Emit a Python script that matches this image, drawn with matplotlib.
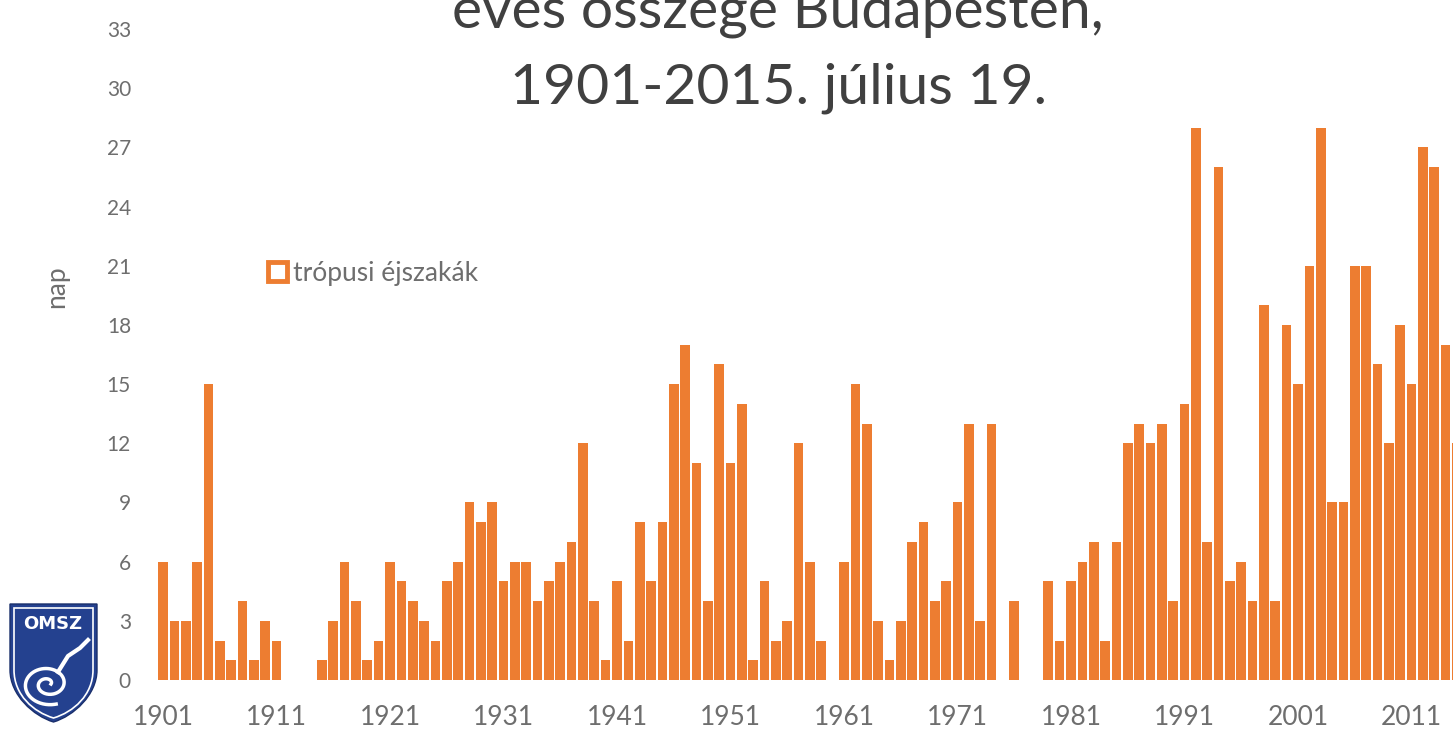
import numpy as np
import matplotlib.pyplot as plt
from matplotlib.patches import Patch, PathPatch
from matplotlib.path import Path

plt.rcParams['font.family'] = ['Lato', 'DejaVu Sans']

# tropical nights per year, Budapest (2015: until July 19)
years = list(range(1901, 2016))
nights = [6, 3, 3, 6, 15, 2, 1, 4, 1, 3,        # 1901-1910
          2, 0, 0, 0, 1, 3, 6, 4, 1, 2,         # 1911-1920
          6, 5, 4, 3, 2, 5, 6, 9, 8, 9,         # 1921-1930
          5, 6, 6, 4, 5, 6, 7, 12, 4, 1,        # 1931-1940
          5, 2, 8, 5, 8, 15, 17, 11, 4, 16,     # 1941-1950
          11, 14, 1, 5, 2, 3, 12, 6, 2, 0,      # 1951-1960
          6, 15, 13, 3, 1, 3, 7, 8, 4, 5,       # 1961-1970
          9, 13, 3, 13, 0, 4, 0, 0, 5, 2,       # 1971-1980
          5, 6, 7, 2, 7, 12, 13, 12, 13, 4,     # 1981-1990
          14, 28, 7, 26, 5, 6, 4, 19, 4, 18,    # 1991-2000
          15, 21, 28, 9, 9, 21, 21, 16, 12, 18, # 2001-2010
          15, 27, 26, 17, 12]                   # 2011-2015
tick_years = list(range(1901, 2012, 10))
y_ticks = list(range(0, 34, 3))
series_label = "trópusi éjszakák"
title_lines = ["éves összege Budapesten,", "1901-2015. július 19."]

ORANGE = "#ED7D31"
GRAY = "#6e6e6e"
W, H = 1453, 731


def fx(px):
    return px / W


def fy(py):
    return 1 - py / H


fig = plt.figure(figsize=(W / 100, H / 100), dpi=100)
# the chart is a crop: axes run past the right edge of the picture
ax = fig.add_axes([fx(157.3), fy(680), 1305.3 / W, 651 / H])
bars = ax.bar(years, nights, width=0.85, color=ORANGE, edgecolor="none")

ax.set_xlim(1900.5, 2015.5)
ax.set_ylim(0, 33)
ax.set_xticks(tick_years)
ax.set_xticklabels([str(y) for y in tick_years], fontsize=19, color=GRAY)
ax.set_yticks(y_ticks)
ax.set_yticklabels([str(v) for v in y_ticks], fontsize=15, color=GRAY)
ax.tick_params(axis="both", length=0)
ax.tick_params(axis="y", pad=19)
ax.tick_params(axis="x", pad=18)
for s in ax.spines.values():
    s.set_visible(False)

fig.text(fx(57), fy(287), "nap", rotation=90, fontsize=19, color=GRAY,
         ha="center", va="center")

handle = Patch(facecolor="white", edgecolor=ORANGE, linewidth=3.5)
fig.legend([handle], [series_label], loc="center left",
           bbox_to_anchor=(fx(255), fy(273)), frameon=False,
           fontsize=19, labelcolor=GRAY, handlelength=0.7, handleheight=0.7,
           handletextpad=0.25, borderpad=0)

fig.text(fx(778), fy(28), title_lines[0], fontsize=41, color="#404040",
         ha="center", va="baseline")
fig.text(fx(778), fy(103), title_lines[1], fontsize=41, color="#404040",
         ha="center", va="baseline")

# OMSZ logo (shield, approximate)
def shield(x0, x1, ytop, yside, ybot, inset=0):
    x0, x1, ytop, yside, ybot = x0 + inset, x1 - inset, ytop + inset, yside, ybot - inset
    xm = (x0 + x1) / 2
    verts = [(x0, ytop), (x1, ytop), (x1, yside),
             (x1, yside + 25), (xm + 20, ybot - 6), (xm, ybot),
             (xm - 20, ybot - 6), (x0, yside + 25), (x0, yside),
             (x0, ytop)]
    codes = [Path.MOVETO, Path.LINETO, Path.LINETO,
             Path.CURVE4, Path.CURVE4, Path.CURVE4,
             Path.CURVE4, Path.CURVE4, Path.CURVE4,
             Path.CLOSEPOLY]
    return Path([(fx(x), fy(y)) for x, y in verts], codes)


fig.patches.append(PathPatch(shield(10, 97, 604, 670, 722), facecolor="#24418f",
                             edgecolor="#1a2f6b", lw=1, transform=fig.transFigure))
fig.patches.append(PathPatch(shield(10, 97, 604, 670, 722, inset=4), facecolor="none",
                             edgecolor="white", lw=1.2, transform=fig.transFigure))
fig.text(fx(53), fy(624), "OMSZ", fontsize=13, fontweight="bold", color="white",
         ha="center", va="center", family="DejaVu Sans")
t = np.linspace(0, 3.6 * np.pi, 200)
r = 3 + 6.5 * t / np.pi
fig.add_artist(plt.Line2D(fx(48 + r * np.cos(t)), fy(684 - 0.8 * r * np.sin(t)),
                          color="white", lw=2.5, transform=fig.transFigure))
fig.add_artist(plt.Line2D(fx(np.array([58, 68, 80, 88])), fy(np.array([672, 656, 648, 640])),
                          color="white", lw=3, transform=fig.transFigure))

fig.savefig("out.png", dpi=100)
